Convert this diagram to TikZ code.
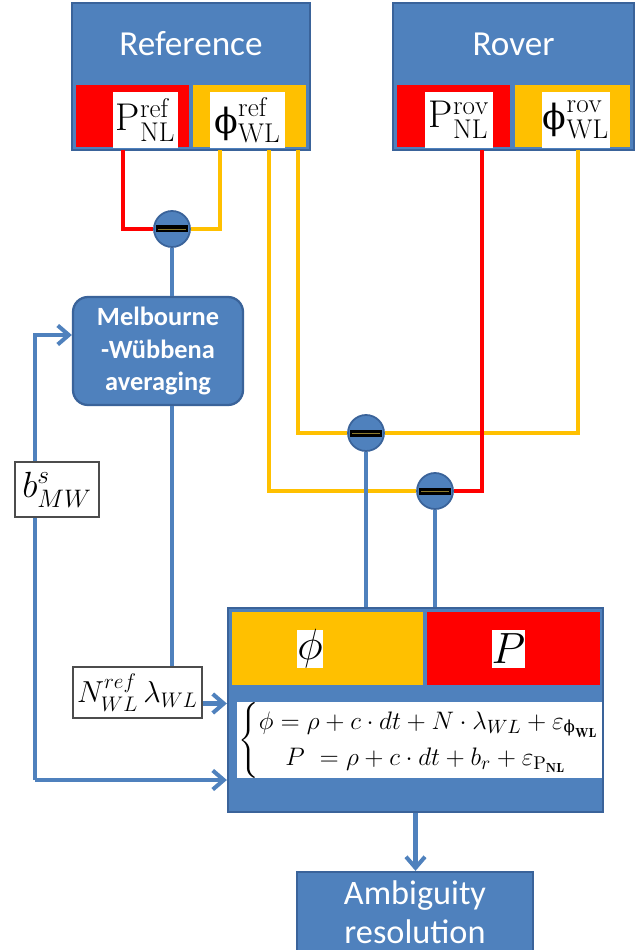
\documentclass[tikz,border=0pt]{standalone}
\usepackage{amsmath}
\usepackage{fontspec}
\newfontfamily\calfont{Carlito}
\newfontfamily\phifont{DejaVu Serif}
\usetikzlibrary{positioning,arrows.meta,calc}

\definecolor{boxblue}{HTML}{4F81BD}
\definecolor{edgeblue}{HTML}{3A639A}
\definecolor{sigred}{HTML}{FF0000}
\definecolor{sigyel}{HTML}{FFC000}
\definecolor{barline}{HTML}{8C7B2E}

\newcommand{\uphi}{\text{\phifont\scalebox{0.9}{ϕ}}}

\begin{document}
\begin{tikzpicture}[x=0.2mm, y=-0.2mm,
  >={Straight Barb[length=2.2mm,width=3.8mm]},
  panel/.style={draw=edgeblue, line width=1.3pt, fill=boxblue, inner sep=0pt},
  cell/.style={inner sep=0pt, minimum height=12.4mm},
  tag/.style={fill=white, inner sep=0pt, text=black},
  hdr/.style={text=white, font=\calfont\fontsize{20}{24}\selectfont},
  minus/.style={circle, draw=edgeblue, line width=1pt, fill=boxblue,
    minimum size=7.2mm, inner sep=0pt,
    path picture={
      \fill[black] ($(path picture bounding box.center)+(-3.2mm,-0.7mm)$)
        rectangle ++(6.4mm,1.4mm);
      \draw[barline, line width=0.5pt]
        ($(path picture bounding box.center)+(-2.8mm,0)$) -- ++(5.6mm,0);}},
  conn/.style={draw=boxblue, line width=2.3pt},
  redline/.style={draw=sigred, line width=2.3pt},
  yelline/.style={draw=sigyel, line width=2.3pt},
  lbl/.style={draw=black!70, line width=0.8pt, fill=white, inner sep=0pt}]
  \useasboundingbox (0,0) rectangle (642,950);

  % receivers
  \node[panel, minimum width=47.6mm, minimum height=29.4mm] (refbox) at (191,76.5) {};
  \node[hdr] (reftxt) at (191,44) {Reference};
  \node[cell, fill=sigred, minimum width=22.6mm] (refP) at (132.5,116) {};
  \node[cell, fill=sigyel, minimum width=22.6mm] (refF) at (249.5,116) {};
  \node[tag, minimum width=13mm, minimum height=11.2mm] (refPtag) at (145.5,120)
    {\fontsize{22}{24}\selectfont$\mathrm{P}^{\mathrm{ref}}_{\mathrm{NL}}$};
  \node[tag, minimum width=15mm, minimum height=11.2mm] (refFtag) at (247.5,120)
    {\fontsize{22}{24}\selectfont$\uphi^{\mathrm{ref}}_{\mathrm{WL}}$};

  \node[panel, minimum width=48.2mm, minimum height=29.4mm] (rovbox) at (513.5,76.5) {};
  \node[hdr] (rovtxt) at (513.5,44) {Rover};
  \node[cell, fill=sigred, minimum width=22.6mm] (rovP) at (453.5,116) {};
  \node[cell, fill=sigyel, minimum width=23mm] (rovF) at (572.5,116) {};
  \node[tag, minimum width=13.6mm, minimum height=11.2mm] (rovPtag) at (459,120)
    {\fontsize{22}{24}\selectfont$\mathrm{P}^{\mathrm{rov}}_{\mathrm{NL}}$};
  \node[tag, minimum width=13.6mm, minimum height=11.2mm] (rovFtag) at (576,120)
    {\fontsize{22}{24}\selectfont$\uphi^{\mathrm{rov}}_{\mathrm{WL}}$};

  % differencing points
  \node[minus] (m1) at (172,229) {};
  \node[minus] (m2) at (366,433) {};
  \node[minus] (m3) at (435,491) {};

  \coordinate (rP) at (123,150);
  \coordinate (rF1) at (220,150);
  \coordinate (rF2) at (269,150);
  \coordinate (rF3) at (298,150);
  \coordinate (roP) at (482,150);
  \coordinate (roF) at (578,150);

  % MW and model
  \node[panel, rounded corners=3mm, minimum width=34mm, minimum height=21.6mm,
        align=center, text=white, font=\calfont\bfseries\fontsize{15}{18.5}\selectfont]
    (mw) at (158,351) {Melbourne\\-Wübbena\\averaging};
  \node[lbl, minimum width=25.8mm, minimum height=10.2mm] (nlab) at (137.5,692.5)
    {\fontsize{18}{20}\selectfont$N^{ref}_{WL}\,\lambda_{WL}$};

  \node[panel, minimum width=75mm, minimum height=40.8mm] (eqbox) at (415.5,710) {};
  \node[cell, fill=sigyel, minimum width=38.2mm, minimum height=14.6mm] (phicell) at (327.5,648.5) {};
  \node[cell, fill=sigred, minimum width=34.6mm, minimum height=14.6mm] (pcell) at (513.5,648.5) {};
  \node[tag, minimum width=5.2mm, minimum height=7.6mm] (phitag) at (310,649)
    {\fontsize{24}{26}\selectfont$\phi$};
  \node[tag, minimum width=6.6mm, minimum height=7.6mm] (ptag) at (508.5,649)
    {\fontsize{24}{26}\selectfont$P$};
  \node[tag, minimum width=72.2mm, minimum height=14mm, inner xsep=1pt] (eqn) at (419.5,740)
    {\fontsize{15}{18}\selectfont\renewcommand{\arraystretch}{1.15}%
     $\left\{\begin{array}{@{}l@{}}
      \phi = \rho + c\cdot dt + N\cdot\lambda_{WL} + \varepsilon_{\uphi_{\mathbf{WL}}}\\
      \quad P\ = \rho + c\cdot dt + b_r + \varepsilon_{\mathrm{P}_{\mathbf{NL}}}
      \end{array}\right.$};

  \node[panel, minimum width=47.2mm, minimum height=16mm, align=center, text=white,
        font=\calfont\fontsize{19.5}{22.5}\selectfont] (amb) at (415,912) {Ambiguity\\resolution};

  % signal lines
  \draw[redline] (rP) |- (m1);
  \draw[yelline] (rF1) |- (m1);
  \draw[yelline] (rF3) |- (m2);
  \draw[yelline] (roF) |- (m2);
  \draw[yelline] (rF2) |- (m3);
  \draw[redline] (roP) |- (m3);

  % blue connectors
  \draw[conn] (m1) -- (m1 |- mw.north);
  \draw[conn] (m1 |- mw.south) -- (m1 |- nlab.north);
  \draw[conn] (m2) -- (m2 |- eqbox.north);
  \draw[conn] (m3) -- (m3 |- eqbox.north);
  \coordinate (nout) at ($(nlab.east)+(0,11)$);
  \draw[conn, ->] (nout) -- (nout -| eqbox.west);
  \coordinate (bturn) at (35,780);
  \draw[conn, ->] (bturn) -- (bturn -| eqbox.west);
  \draw[conn, ->] (bturn) |- ($(mw.west)+(0,-16)$);
  \draw[conn, ->] (eqbox.south) -- (eqbox.south |- amb.north);
  \node[lbl, minimum width=16.8mm, minimum height=11mm] (bmw) at (57,489.5)
    {\fontsize{21}{23}\selectfont$b^{s}_{MW}$};
\end{tikzpicture}
\end{document}
